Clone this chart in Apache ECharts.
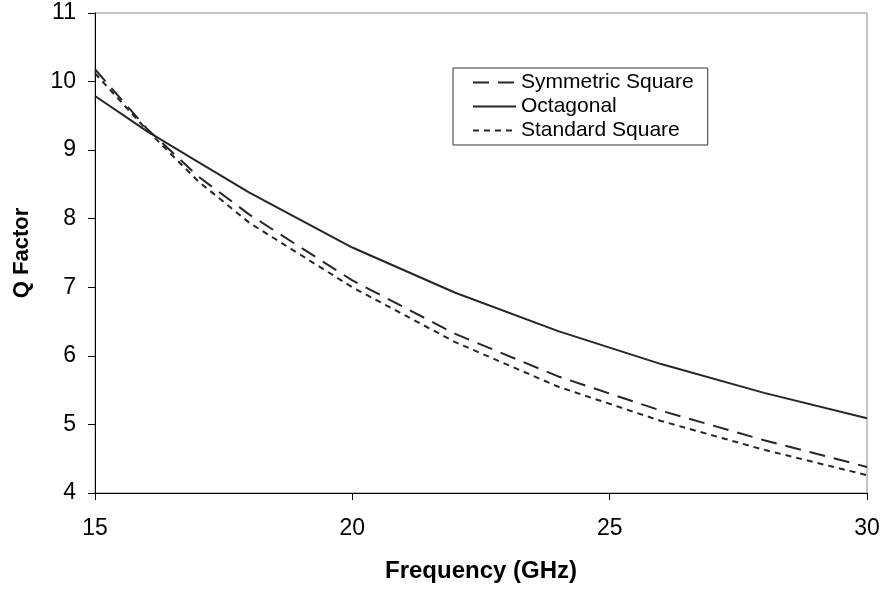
<!DOCTYPE html>
<html><head><meta charset="utf-8">
<script src="https://cdn.jsdelivr.net/npm/echarts@6/dist/echarts.min.js"></script>
<style>html,body{margin:0;padding:0;background:#fff}#c{width:884px;height:591px}</style>
</head><body><div id="c"></div>
<script>
const freq = [15, 16, 17, 18, 20, 22, 24, 26, 28, 30];
const symmetricSquare = [10.18, 9.32, 8.62, 8.06, 7.1, 6.32, 5.7, 5.2, 4.77, 4.38];
const octagonal = [9.79, 9.28, 8.83, 8.38, 7.58, 6.92, 6.36, 5.88, 5.46, 5.09];
const standardSquare = [10.12, 9.3, 8.55, 7.94, 7.0, 6.2, 5.55, 5.05, 4.63, 4.26];
const seriesNames = ['Symmetric Square', 'Octagonal', 'Standard Square'];
const xTicks = [15, 20, 25, 30];
const yRange = [4, 11];

const pairs = arr => freq.map((f, i) => [f, arr[i]]);
const lineCol = '#262626';
const font = 'Liberation Sans, Arial, sans-serif';

const chart = echarts.init(document.getElementById('c'));
chart.setOption({
  animation: false,
  backgroundColor: '#fff',
  grid: { left: 95, right: 17, top: 13, bottom: 98, show: true, borderColor: '#888', borderWidth: 1 },
  xAxis: {
    type: 'value', min: xTicks[0], max: xTicks[xTicks.length - 1], interval: 5,
    name: 'Frequency (GHz)', nameLocation: 'middle', nameGap: 66,
    nameTextStyle: { fontFamily: font, fontWeight: 'bold', fontSize: 24, color: '#000' },
    axisLine: { lineStyle: { color: '#000', width: 1 } },
    axisTick: { length: 7, lineStyle: { color: '#000' } },
    axisLabel: { fontFamily: font, fontSize: 23, color: '#000', margin: 24 },
    splitLine: { show: false }
  },
  yAxis: {
    type: 'value', min: yRange[0], max: yRange[1], interval: 1,
    name: 'Q Factor', nameLocation: 'middle', nameGap: 62,
    nameTextStyle: { fontFamily: font, fontWeight: 'bold', fontSize: 22, color: '#000' },
    axisLine: { show: true, lineStyle: { color: '#000', width: 1 } },
    axisTick: { show: true, length: 7, lineStyle: { color: '#000' } },
    axisLabel: { fontFamily: font, fontSize: 23, color: '#000', margin: 19 },
    splitLine: { show: false }
  },
  legend: {
    orient: 'vertical', left: 453, top: 68,
    backgroundColor: '#fff',
    borderColor: '#333', borderWidth: 1, borderRadius: 0,
    padding: [4, 14, 4, 19],
    itemGap: 3, itemWidth: 43, itemHeight: 10,
    itemStyle: { opacity: 0 },
    textStyle: { fontFamily: font, fontSize: 21, lineHeight: 21, color: '#000' },
    data: seriesNames
  },
  series: [
    { name: seriesNames[0], type: 'line', data: pairs(symmetricSquare), symbol: 'none',
      lineStyle: { color: lineCol, width: 2, type: [16, 9] }, itemStyle: { color: lineCol } },
    { name: seriesNames[1], type: 'line', data: pairs(octagonal), symbol: 'none',
      lineStyle: { color: lineCol, width: 2, type: 'solid' }, itemStyle: { color: lineCol } },
    { name: seriesNames[2], type: 'line', data: pairs(standardSquare), symbol: 'none',
      lineStyle: { color: lineCol, width: 2, type: [6, 5] }, itemStyle: { color: lineCol } }
  ]
});
</script></body></html>
